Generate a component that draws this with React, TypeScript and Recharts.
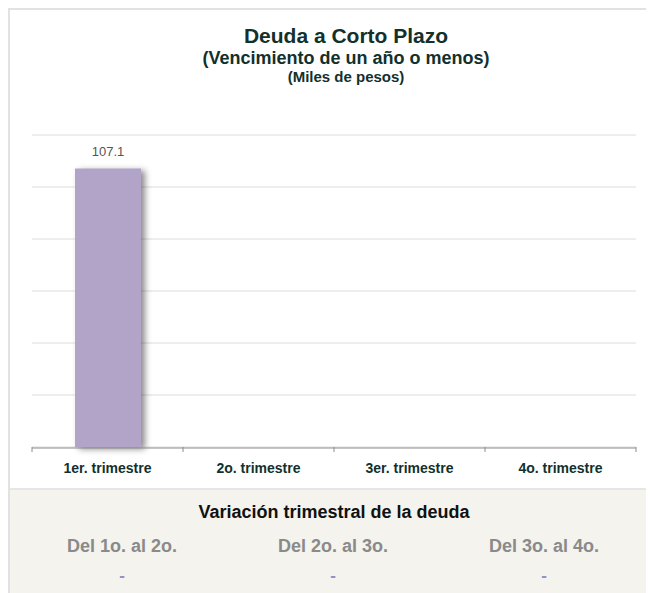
import React from 'react';
import { BarChart, Bar, XAxis, YAxis, CartesianGrid, LabelList } from 'recharts';

const quarters = ['1er. trimestre', '2o. trimestre', '3er. trimestre', '4o. trimestre'];
const debtValues: (number | null)[] = [107.1, null, null, null];
const yTicks = [0, 20, 40, 60, 80, 100, 120];
const boundaryTicks = [0, 1, 2, 3, 4];
const variationLabels = ['Del 1o. al 2o.', 'Del 2o. al 3o.', 'Del 3o. al 4o.'];
const variationValues = ['-', '-', '-'];

const data = quarters.map((q, i) => ({ name: q, idx: i + 0.5, value: debtValues[i] }));

const FONT = 'Arial, "Liberation Sans", Helvetica, sans-serif';
const TITLE_COLOR = '#12302c';

const ShadowBar = (props: any) => {
  const { x, y, width, height, fill } = props;
  if (!height || height <= 0) return null;
  return (
    <rect
      x={x}
      y={y}
      width={width}
      height={height}
      fill={fill}
      style={{ filter: 'drop-shadow(4px 2px 3px rgba(0,0,0,0.45))' }}
    />
  );
};

const App = () => {
  return (
    <div
      style={{
        position: 'relative',
        width: 644,
        height: 583,
        borderLeft: '2px solid #e2e2e2',
        borderTop: '2px solid #e2e2e2',
        fontFamily: FONT,
        background: '#fff',
        overflow: 'hidden',
      }}
    >
      <style>{'body{overflow:hidden}'}</style>
      {/* título */}
      <div style={{ position: 'absolute', left: 0, width: 672, top: 14, textAlign: 'center', color: TITLE_COLOR, fontWeight: 'bold' }}>
        <div style={{ fontSize: 21, lineHeight: '24px' }}>Deuda a Corto Plazo</div>
        <div style={{ fontSize: 18, lineHeight: '20px' }}>(Vencimiento de un año o menos)</div>
        <div style={{ fontSize: 15, lineHeight: '18px' }}>(Miles de pesos)</div>
      </div>

      <div style={{ position: 'absolute', left: -2, top: -2 }}>
        <BarChart
          width={646}
          height={470}
          data={data}
          margin={{ top: 127, right: 18, left: 24, bottom: 0 }}
        >
          <CartesianGrid vertical={false} stroke="#dcdcdc" strokeWidth={1} />
          <YAxis hide domain={[0, 120]} ticks={yTicks} width={0} />
          <XAxis
            dataKey="name"
            xAxisId="cat"
            axisLine={{ stroke: '#8c8c8c' }}
            tickLine={false}
            height={30}
            tick={{ fill: TITLE_COLOR, fontSize: 14, fontWeight: 'bold', fontFamily: FONT }}
            dy={7}
          />
          <XAxis
            dataKey="idx"
            xAxisId="bounds"
            type="number"
            domain={[0, 4]}
            ticks={boundaryTicks}
            axisLine={false}
            tickLine={{ stroke: '#8c8c8c' }}
            tickSize={5}
            tickFormatter={() => ''}
            height={1}
          />
          <Bar
            dataKey="value"
            xAxisId="cat"
            fill="#b2a3c8"
            barSize={66}
            shape={ShadowBar}
            isAnimationActive={false}
          >
            <LabelList
              dataKey="value"
              position="top"
              offset={13}
              fill="#555"
              fontSize={13}
              fontFamily={FONT}
              formatter={(v: any) => (v == null ? '' : Number(v).toFixed(1))}
            />
          </Bar>
        </BarChart>
      </div>

      {/* panel de variación */}
      <div
        style={{
          position: 'absolute',
          left: 0,
          top: 478,
          width: 646,
          height: 110,
          background: '#f4f3ed',
          borderTop: '2px solid #e6e6e6',
        }}
      >
        <div style={{ position: 'absolute', left: 0, width: 648, top: 11, textAlign: 'center', fontSize: 18, fontWeight: 'bold', color: '#111', lineHeight: '22px' }}>
          Variación trimestral de la deuda
        </div>
        {variationLabels.map((lab, i) => (
          <div key={lab} style={{ position: 'absolute', left: 12 + i * 211, width: 200, top: 45, textAlign: 'center' }}>
            <div style={{ fontSize: 18, fontWeight: 'bold', color: '#8a8a8a', lineHeight: '22px' }}>{lab}</div>
            <div style={{ fontSize: 17, fontWeight: 'bold', color: '#9a8cc4', marginTop: 9, lineHeight: '20px' }}>{variationValues[i]}</div>
          </div>
        ))}
      </div>
    </div>
  );
};

export default App;
